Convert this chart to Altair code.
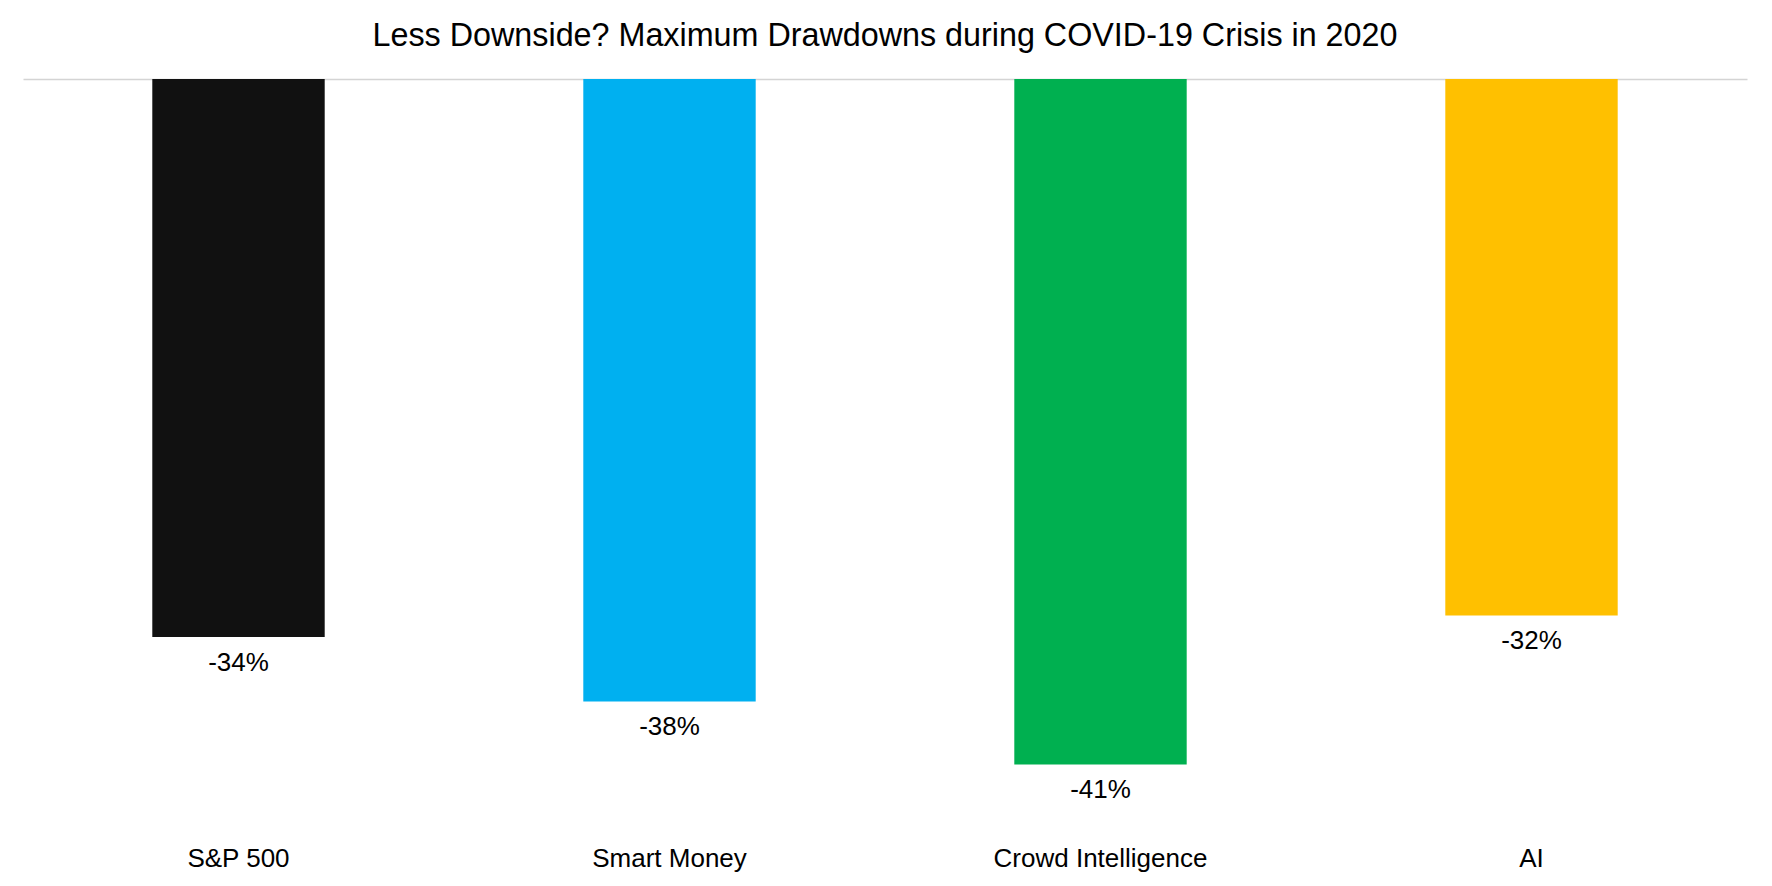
import altair as alt
import pandas as pd

categories = ["S&P 500", "Smart Money", "Crowd Intelligence", "AI"]
drawdowns = [-0.337, -0.376, -0.414, -0.324]
colors = ["#111111", "#00B0F0", "#00B050", "#FFC000"]
labels = [f"{round(v * 100)}%" for v in drawdowns]

df = pd.DataFrame({"category": categories, "value": drawdowns, "label": labels})

FONT = "Liberation Sans"

x = alt.X(
    "category:N",
    sort=None,
    scale=alt.Scale(paddingInner=0.6, paddingOuter=0.3),
    axis=alt.Axis(
        title=None, domain=False, ticks=False, tickSize=0, labelAngle=0,
        labelFontSize=26, labelFont=FONT, labelColor="#000000",
        labelPadding=21, labelLimit=1000, grid=False,
    ),
)
y = alt.Y(
    "value:Q",
    scale=alt.Scale(domain=[-0.45, 0], nice=False, zero=True),
    axis=alt.Axis(
        title=None, values=[0], labels=False, ticks=False, domain=False,
        grid=True, gridColor="#d4d4d4", gridWidth=1.5,
    ),
)

bars = alt.Chart(df).mark_bar().encode(
    x=x,
    y=y,
    color=alt.Color("category:N", sort=None,
                    scale=alt.Scale(domain=categories, range=colors), legend=None),
)

text = alt.Chart(df).mark_text(
    baseline="top", dy=13, fontSize=26, font=FONT, color="#000000"
).encode(
    x=alt.X("category:N", sort=None),
    y=alt.Y("value:Q"),
    text="label:N",
)

chart = alt.layer(bars, text).properties(
    width=1724,
    height=745,
    title=alt.TitleParams(
        "Less Downside? Maximum Drawdowns during COVID-19 Crisis in 2020",
        fontSize=32.3, font=FONT, fontWeight="normal", color="#000000",
        anchor="middle", offset=27,
    ),
    autosize=alt.AutoSizeParams(type="none"),
    padding={"left": 15, "top": 71, "right": 16, "bottom": 50},
).configure(background="#ffffff").configure_view(strokeWidth=0, stroke=None)

chart.save("out.html", embed_options={"renderer": "svg", "actions": False})
